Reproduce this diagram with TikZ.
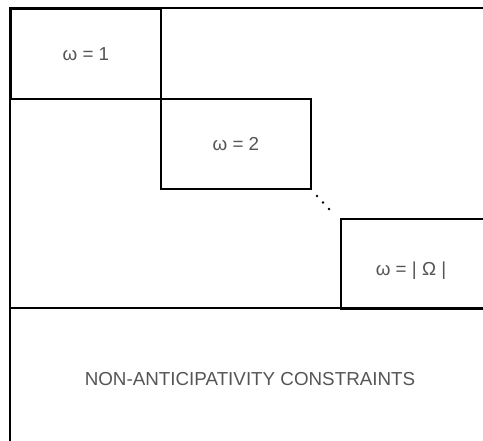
\documentclass[tikz,border=0pt]{standalone}
\usepackage{fontspec}
\setmainfont{Liberation Sans}
\definecolor{txt}{HTML}{555555}
\begin{document}
\begin{tikzpicture}[x=1pt,y=-1pt,
  blk/.style={draw=black,line width=1.8pt,inner sep=0pt},
  lbl/.style={text=txt,font=\fontsize{18.8}{22}\selectfont},
  dotc/.style={fill=black,draw=none}]
\useasboundingbox (0,0) rectangle (483,441);
\clip (0,0) rectangle (483,441);
% outer frame lines
\coordinate (tl) at (10,8);
\coordinate (tr) at (490,8);
\coordinate (bl) at (10,450);
\coordinate (ml) at (10,308);
\coordinate (mr) at (490,308);
\draw[line width=1.8pt] (tr) -- (tl) -- (bl);
\draw[line width=1.8pt] (ml) -- (mr);
% scenario blocks
\node[blk,minimum width=150pt,minimum height=90pt,anchor=north west] (b1) at (10,8) {};
\node[lbl] (t1) at (b1.center) {ω = 1};
\node[blk,minimum width=150pt,minimum height=90pt,anchor=north west] (b2) at (160,98) {};
\node[lbl] (t2) at (b2.center) {ω = 2};
\node[blk,minimum width=160pt,minimum height=90pt,anchor=north west] (b3) at (340,218) {};
\node[lbl] (t3) at (411,271) {ω = | Ω |};
% dots
\fill[dotc] (317,196) circle (1.4pt);
\fill[dotc] (323,202.5) circle (1.4pt);
\fill[dotc] (329,209) circle (1.4pt);
% constraints
\node[lbl] (nac) at (250,379) {NON-ANTICIPATIVITY CONSTRAINTS};
\end{tikzpicture}
\end{document}
